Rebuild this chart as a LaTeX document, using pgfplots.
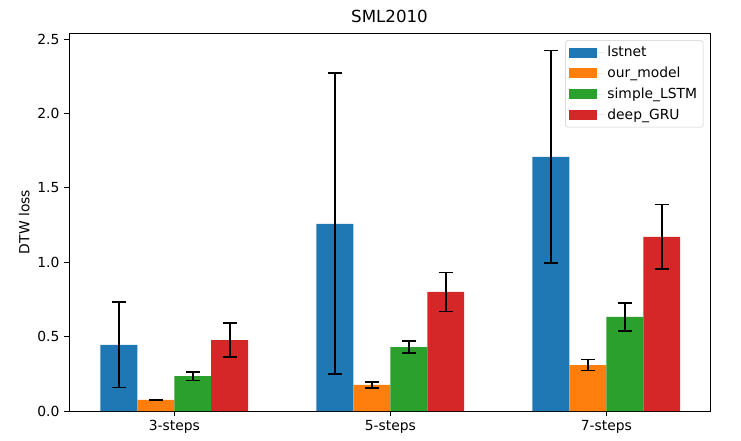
\documentclass[border=0pt]{standalone}
\usepackage{fontspec}
\setmainfont{DejaVu Sans}
\usepackage{pgfplots}
\pgfplotsset{compat=1.18}

\definecolor{tabblue}{HTML}{1F77B4}
\definecolor{taborange}{HTML}{FF7F0E}
\definecolor{tabgreen}{HTML}{2CA02C}
\definecolor{tabred}{HTML}{D62728}

\pgfplotsset{
  barbox/.style={
    fill=#1, draw=none,
    legend image code/.code={
      \path[fill=#1, sharp corners] (0pt,-3.75pt) rectangle (21pt,3.75pt);
      \path (0pt,0pt) -- (27pt,0pt);
    }
  }
}

\begin{document}
\begin{tikzpicture}
\begin{axis}[
  at={(51.75pt,21.75pt)}, anchor=south west,
  scale only axis, width=480.75pt, height=283.5pt,
  ybar=0pt, bar width=0.171,
  xmin=-0.4875, xmax=2.48, ymin=0, ymax=2.54,
  xtick={0,1,2}, xticklabels={3-steps,5-steps,7-steps},
  ytick={0,0.5,1,1.5,2,2.5},
  yticklabel style={/pgf/number format/.cd,fixed,fixed zerofill,precision=1},
  /pgf/number format/assume math mode=true,
  tick pos=left, tick align=outside, major tick length=3.65pt,
  every tick/.style={black, line width=0.6pt},
  axis line style={line width=0.6pt},
  ticklabel style={font=\fontsize{10.4}{12}\selectfont},
  title={SML2010},
  title style={at={(axis description cs:0.5,1)}, anchor=base, yshift=1.8pt,
    font=\fontsize{12.5}{14}\selectfont},
  ylabel={DTW loss},
  ylabel style={at={(axis description cs:-0.070,0.5)}, anchor=center,
    font=\fontsize{10.4}{12}\selectfont},
  legend style={at={(1,1)}, anchor=north east, xshift=-5pt, yshift=-5.25pt,
    draw=black!20, rounded corners=2pt, font=\fontsize{10.4}{12}\selectfont,
    row sep=2.2pt, inner sep=2.5pt},
  legend cell align=left,
  error bars/y dir=both, error bars/y explicit,
  error bars/error bar style={black, line width=1.4pt},
  error bars/error mark options={black, line width=1.4pt, mark size=5.25pt, rotate=90},
]
\addplot[barbox=tabblue] coordinates {
  (0,0.444) +- (0,0.286)
  (1,1.258) +- (0,1.012)
  (2,1.708) +- (0,0.714)
};
\addplot[barbox=taborange] coordinates {
  (0,0.074) +- (0,0.003)
  (1,0.175) +- (0,0.018)
  (2,0.309) +- (0,0.037)
};
\addplot[barbox=tabgreen] coordinates {
  (0,0.235) +- (0,0.030)
  (1,0.430) +- (0,0.038)
  (2,0.632) +- (0,0.094)
};
\addplot[barbox=tabred] coordinates {
  (0,0.477) +- (0,0.112)
  (1,0.800) +- (0,0.131)
  (2,1.170) +- (0,0.218)
};
\legend{lstnet,our\_model,simple\_LSTM,deep\_GRU}
\end{axis}
\pgfresetboundingbox
\useasboundingbox (0,0) rectangle (555.75pt,330pt);
\end{tikzpicture}
\end{document}
